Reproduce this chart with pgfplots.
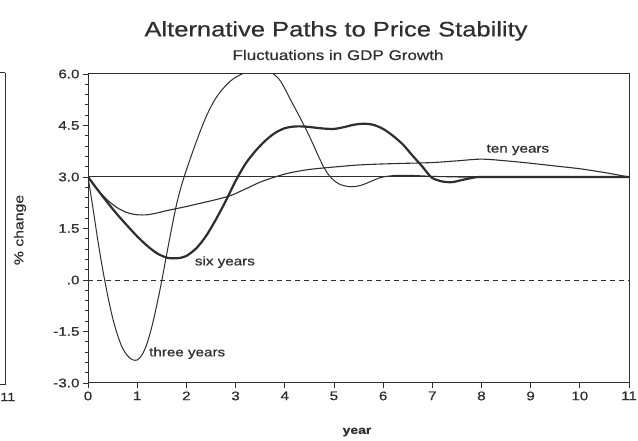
\documentclass[border=0pt]{standalone}
\usepackage{pgfplots}
\pgfplotsset{compat=1.18}
\usepackage{fontspec}
\setmainfont{Liberation Sans}[FakeStretch=1.22, FakeBold=0.6]
\setsansfont{Liberation Sans}[FakeStretch=1.22, FakeBold=0.6]
\definecolor{ink}{HTML}{2E2E2E}
\begin{document}
\begin{tikzpicture}[x=1bp,y=1bp]
\useasboundingbox (0,0) rectangle (638,441);
\begin{axis}[
  at={(88bp,58bp)}, anchor=south west,
  scale only axis, width=541bp, height=309bp,
  xmin=0, xmax=11, ymin=-3, ymax=6,
  xtick={0,1,...,11},
  ytick={-3,-1.5,0,1.5,3,4.5,6},
  yticklabels={-3.0,-1.5,.0,1.5,3.0,4.5,6.0},
  minor y tick num=4,
  tick align=outside,
  xtick pos=bottom, ytick pos=left,
  major tick length=5bp, minor tick length=3bp,
  tick style={line width=0.8bp, color=ink},
  axis line style={line width=1bp, color=ink},
  ticklabel style={font=\fontsize{12.5}{14}\selectfont, text=ink},
  /pgf/number format/assume math mode=true,
  every axis plot/.append style={color=ink},
]
% reference lines
\addplot[line width=1bp, ink] coordinates {(0,3) (11,3)};
\addplot[line width=0.9bp, ink, dash pattern=on 5bp off 4bp] coordinates {(0,0) (11,0)};
% three years
\addplot[line width=1bp, smooth] coordinates {
(0,3.0) (0.1,2.1) (0.2,1.15) (0.3,0.3) (0.4,-0.45) (0.5,-1.1) (0.6,-1.6) (0.7,-1.98)
(0.8,-2.2) (0.9,-2.32) (1.0,-2.33) (1.1,-2.18) (1.2,-1.85) (1.3,-1.35) (1.4,-0.72)
(1.5,-0.02) (1.6,0.75) (1.7,1.5) (1.8,2.2) (1.9,2.75) (2.0,3.2) (2.1,3.62) (2.2,4.02)
(2.3,4.4) (2.4,4.75) (2.5,5.05) (2.6,5.3) (2.7,5.5) (2.8,5.66) (2.9,5.8) (3.0,5.9)
(3.1,5.98) (3.2,6.04) (3.3,6.08) (3.4,6.1) (3.5,6.1) (3.6,6.09) (3.7,6.05) (3.8,5.97)
(3.9,5.82) (4.0,5.58) (4.1,5.3) (4.2,5.03) (4.3,4.76) (4.4,4.48) (4.5,4.19) (4.6,3.88)
(4.7,3.56) (4.8,3.27) (4.9,3.05) (5.0,2.9) (5.1,2.8) (5.2,2.75) (5.3,2.72) (5.4,2.72)
(5.5,2.74) (5.6,2.78) (5.7,2.84) (5.8,2.9) (5.9,2.96) (6.0,3.0) (6.2,3.04) (6.5,3.05)
(7.0,3.02) (7.5,3.0) (8,3.0) (9,3.0) (10,3.0) (11,3.0)};
% six years
\addplot[line width=2.2bp, smooth] coordinates {
(0,3.0) (0.2,2.62) (0.4,2.25) (0.6,1.9) (0.8,1.58) (1.0,1.27) (1.2,1.0) (1.4,0.78)
(1.6,0.65) (1.75,0.63) (1.9,0.65) (2.0,0.7) (2.2,0.92) (2.4,1.28) (2.6,1.76) (2.8,2.3)
(3.0,2.88) (3.2,3.38) (3.4,3.75) (3.6,4.05) (3.8,4.28) (4.0,4.42) (4.2,4.47) (4.4,4.47)
(4.6,4.44) (4.8,4.41) (5.0,4.4) (5.2,4.45) (5.4,4.52) (5.6,4.55) (5.8,4.52) (6.0,4.4)
(6.2,4.2) (6.4,3.95) (6.6,3.62) (6.8,3.3) (6.9,3.12) (7.0,2.97) (7.2,2.87) (7.4,2.85)
(7.6,2.91) (7.8,2.97) (8.0,3.0) (9,3.0) (10,3.0) (11,3.0)};
% ten years
\addplot[line width=1.1bp, smooth] coordinates {
(0,3.0) (0.2,2.62) (0.4,2.32) (0.6,2.1) (0.8,1.96) (1.0,1.9) (1.2,1.9) (1.4,1.95)
(1.6,2.02) (1.8,2.08) (2.0,2.14) (2.3,2.24) (2.6,2.34) (2.9,2.46) (3.2,2.65) (3.5,2.85)
(3.8,3.0) (4.1,3.12) (4.5,3.22) (5.0,3.29) (5.5,3.35) (6.0,3.38) (6.5,3.4) (7.0,3.42)
(7.5,3.47) (8.0,3.52) (8.5,3.47) (9.0,3.4) (9.5,3.32) (10.0,3.24) (10.5,3.13) (11,3.0)};
\node[anchor=center, font=\fontsize{12.5}{14}\selectfont, text=ink] at (axis cs:8.74,3.79) {ten years};
\node[anchor=west, font=\fontsize{12.5}{14}\selectfont, text=ink, inner sep=0pt] at (axis cs:2.17,0.52) {six years};
\node[anchor=west, font=\fontsize{12.5}{14}\selectfont, text=ink, inner sep=0pt] at (axis cs:1.24,-2.13) {three years};
\end{axis}
% titles and labels
\node[text=ink, font=\fontsize{21}{24}\selectfont] at (336,410) {Alternative Paths to Price Stability};
\node[text=ink, font=\fontsize{14}{16}\selectfont] at (338,386) {Fluctuations in GDP Growth};
\node[text=ink, font=\fontsize{11.5}{13}\selectfont\bfseries] at (357,9) {year};
\node[text=ink, font=\fontsize{13}{15}\selectfont, rotate=90] at (20,211) {\% change};
% partial neighbouring panel at the left edge
\draw[ink, line width=1bp] (5,368) -- (5,56) -- (0,56);
\draw[ink, line width=1bp] (0,368) -- (5,368);
\node[text=ink, font=\fontsize{12}{13}\selectfont, anchor=west, inner sep=0pt] at (0,44) {11};
\end{tikzpicture}
\end{document}
